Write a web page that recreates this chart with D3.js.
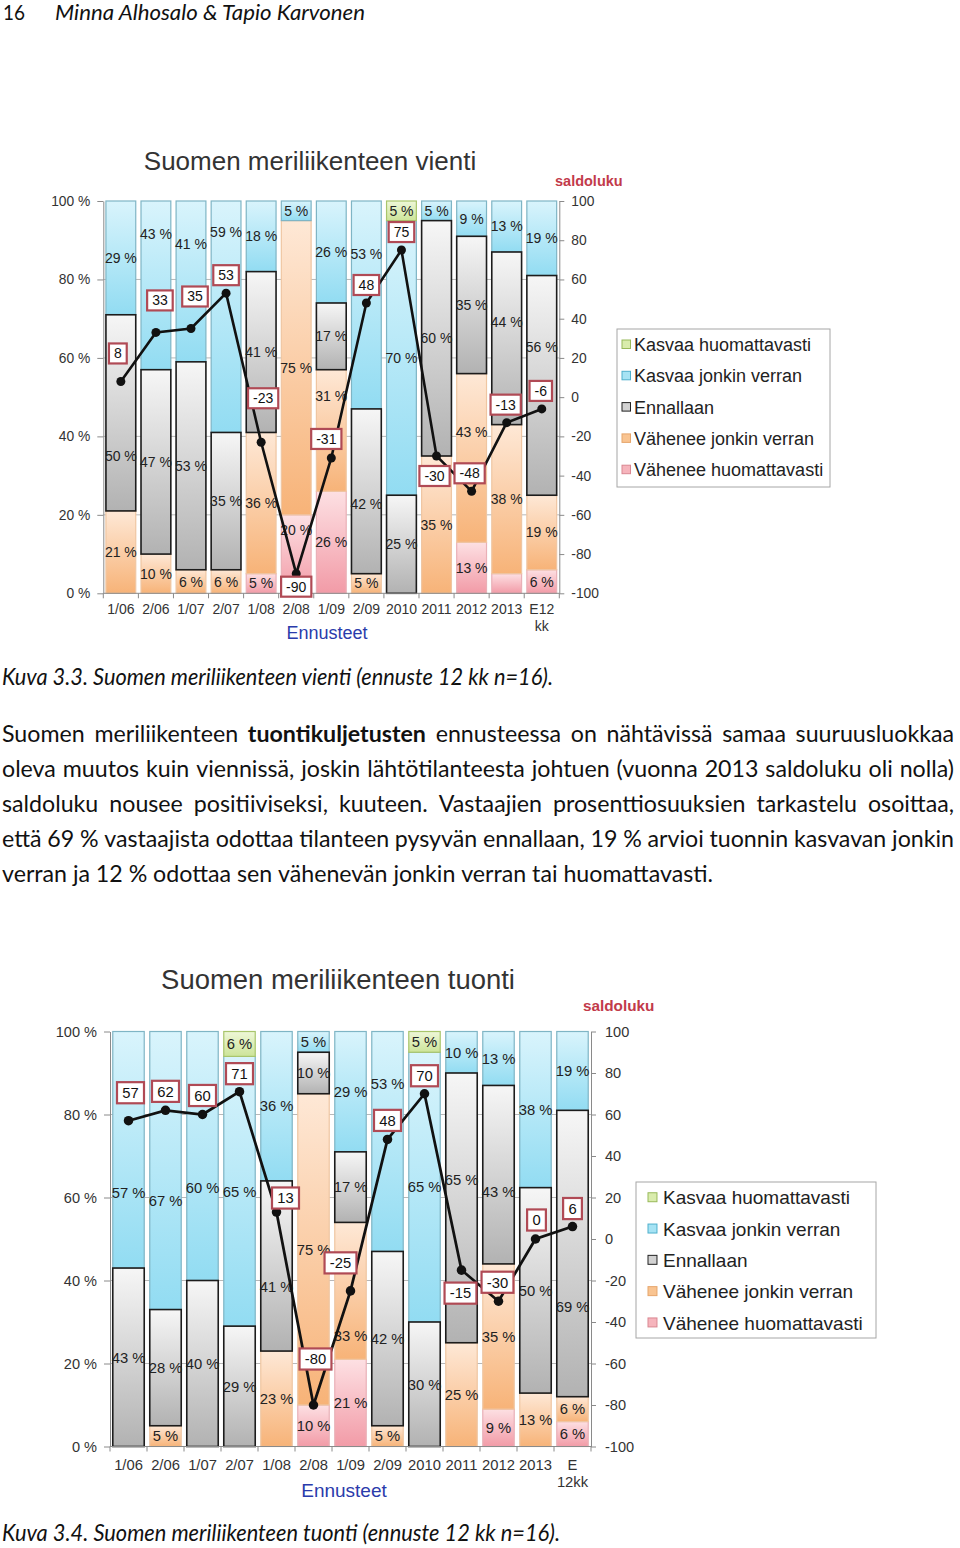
<!DOCTYPE html>
<html><head><meta charset="utf-8">
<script src="https://cdn.jsdelivr.net/npm/d3@7"></script>
<style>body{margin:0;background:#fff}svg{display:block}</style>
</head><body>
<svg id="page" width="960" height="1548"></svg>
<script>
// ---------------- DATA ----------------
const categories1 = ["1/06","2/06","1/07","2/07","1/08","2/08","1/09","2/09","2010","2011","2012","2013","E12 kk"];
const categories2 = ["1/06","2/06","1/07","2/07","1/08","2/08","1/09","2/09","2010","2011","2012","2013","E 12kk"];
const stackKeys = ["vh","vj","en","kj","kh"]; // bottom -> top
const seriesLabels = ["Vähenee huomattavasti","Vähenee jonkin verran","Ennallaan","Kasvaa jonkin verran","Kasvaa huomattavasti"];
const legendOrder = ["kh","kj","en","vj","vh"];

// Kuva 3.3 vienti
const vientiVaheneeHuom  = [0, 0, 0, 0, 5, 20, 26, 0, 0, 0, 13, 5, 6];
const vientiVaheneeJonk  = [21,10, 6, 6, 36, 75, 31, 5, 0, 35, 43, 38, 19];
const vientiEnnallaan    = [50,47,53,35, 41, 0, 17, 42, 25, 60, 35, 44, 56];
const vientiKasvaaJonk   = [29,43,41,59, 18, 5, 26, 53, 70, 5, 9, 13, 19];
const vientiKasvaaHuom   = [0, 0, 0, 0, 0, 0, 0, 0, 5, 0, 0, 0, 0];
const vientiSaldo        = [8, 33, 35, 53, -23, -90, -31, 48, 75, -30, -48, -13, -6];

// Kuva 3.4 tuonti
const tuontiVaheneeHuom  = [0, 0, 0, 0, 0, 10, 21, 0, 0, 0, 9, 0, 6];
const tuontiVaheneeJonk  = [0, 5, 0, 0, 23, 75, 33, 5, 0, 25, 35, 13, 6];
const tuontiEnnallaan    = [43,28,40,29, 41, 10, 17, 42, 30, 65, 43, 50, 69];
const tuontiKasvaaJonk   = [57,67,60,65, 36, 5, 29, 53, 65, 10, 13, 38, 19];
const tuontiKasvaaHuom   = [0, 0, 0, 6, 0, 0, 0, 0, 5, 0, 0, 0, 0];
const tuontiSaldo        = [57, 62, 60, 71, 13, -80, -25, 48, 70, -15, -30, 0, 6];

const pctTicks = [0, 0.2, 0.4, 0.6, 0.8, 1];
const saldoTicks = [-100,-80,-60,-40,-20,0,20,40,60,80,100];

const headerNumber = "16";
const headerAuthors = "Minna Alhosalo & Tapio Karvonen";
const caption1 = "Kuva 3.3. Suomen meriliikenteen vienti (ennuste 12 kk n=16).";
const caption2 = "Kuva 3.4. Suomen meriliikenteen tuonti (ennuste 12 kk n=16).";
const paragraphLines = [
  "Suomen meriliikenteen tuontikuljetusten ennusteessa on nähtävissä samaa suuruusluokkaa",
  "oleva muutos kuin viennissä, joskin lähtötilanteesta johtuen (vuonna 2013 saldoluku oli nolla)",
  "saldoluku nousee positiiviseksi, kuuteen. Vastaajien prosenttiosuuksien tarkastelu osoittaa,",
  "että 69 % vastaajista odottaa tilanteen pysyvän ennallaan, 19 % arvioi tuonnin kasvavan jonkin",
  "verran ja 12 % odottaa sen vähenevän jonkin verran tai huomattavasti."
];
const boldWords = ["tuontikuljetusten"];

// ---------------- STYLE ----------------
const svg = d3.select("#page");
svg.append("rect").attr("width",960).attr("height",1548).attr("fill","#fff");
const defs = svg.append("defs");
const gradStops = {kh:["#eef7d8","#cde499"], kj:["#d9f4fc","#92dcf2"], en:["#f6f6f6","#b2b2b2"], vj:["#fee8d6","#f7b378"], vh:["#fde0e3","#f29ba7"]};
const segStroke = {kh:"#a9c56c", kj:"#7fb5c5", en:"#1c1c1c", vj:"#efc6a2", vh:"#e9b0b7"};
const legFill = {kh:"#d9ecac", kj:"#a6e3f4", en:"#d2d2d2", vj:"#f9c491", vh:"#f6b4bc"};
const legStroke = {kh:"#98b95a", kj:"#4fb0cc", en:"#222", vj:"#e6a66c", vh:"#d98791"};
Object.entries(gradStops).forEach(([k,[a,b]]) => {
  const lg = defs.append("linearGradient").attr("id","g-"+k).attr("x1",0).attr("y1",0).attr("x2",0).attr("y2",1);
  lg.append("stop").attr("offset","0%").attr("stop-color",a);
  lg.append("stop").attr("offset","100%").attr("stop-color",b);
});
const chartFont = "'Liberation Sans', Arial, sans-serif";
const bodyFont = "Lato, 'Open Sans', sans-serif";

function drawChart(c) {
  const k = c.k;
  const g = svg.append("g").attr("font-family", chartFont);
  const rows = c.categories.map((cat,i) => ({cat, i, vh:c.vh[i], vj:c.vj[i], en:c.en[i], kj:c.kj[i], kh:c.kh[i], saldo:c.saldo[i]}));
  const x = d3.scaleBand().domain(c.categories).range([c.x0, c.x1]).paddingInner(0.15).paddingOuter(0.075);
  const yP = d3.scaleLinear().domain([0,1]).range([c.yBot, c.yTop]);
  const yS = d3.scaleLinear().domain([-100,100]).range([c.yBot, c.yTop]);

  // title
  g.append("text").attr("x", c.titleX).attr("y", c.titleY).attr("text-anchor","middle")
    .attr("font-size", 26*k).attr("fill","#333").text(c.title);

  // gridlines
  g.append("g").selectAll("line").data([0.2,0.4,0.6,0.8]).join("line")
    .attr("x1", c.x0).attr("x2", c.x1).attr("y1", d => yP(d)).attr("y2", d => yP(d))
    .attr("stroke","#b8b8b8").attr("stroke-width",1);

  const stacked = d3.stack().keys(stackKeys).offset(d3.stackOffsetExpand)(rows);
  const drawOrder = ["vh","vj","kj","kh","en"];
  const segs = [];
  stacked.forEach(L => L.forEach(d => { if (d[1] > d[0]) segs.push({key:L.key, y0:d[0], y1:d[1], cat:d.data.cat, i:d.data.i, v:d.data[L.key]}); }));
  segs.sort((a,b) => drawOrder.indexOf(a.key) - drawOrder.indexOf(b.key));
  g.append("g").selectAll("rect").data(segs).join("rect")
    .attr("x", d => x(d.cat)).attr("width", x.bandwidth())
    .attr("y", d => yP(d.y1)).attr("height", d => yP(d.y0) - yP(d.y1))
    .attr("fill", d => "url(#g-" + d.key + ")")
    .attr("stroke", d => segStroke[d.key]).attr("stroke-width", d => d.key === "en" ? 1.6 : 1.2);

  // segment labels
  g.append("g").selectAll("text").data(segs.filter(d => !c.hidden.includes(d.i + "-" + d.key))).join("text")
    .attr("x", d => x(d.cat) + x.bandwidth()/2)
    .attr("y", d => yP((d.y0 + d.y1)/2) + 5*k + (c.nudge[d.i + "-" + d.key] || 0))
    .attr("text-anchor","middle").attr("font-size", 14*k).attr("fill","#222")
    .text(d => d.v + " %");

  // left axis
  const la = g.append("g").attr("transform", `translate(${c.x0},0)`)
    .call(d3.axisLeft(yP).tickValues(pctTicks).tickFormat(d => Math.round(d*100) + " %").tickSizeInner(6).tickSizeOuter(0).tickPadding(7));
  // right axis
  const ra = g.append("g").attr("transform", `translate(${c.x1},0)`)
    .call(d3.axisRight(yS).tickValues(saldoTicks).tickFormat(d => String(d)).tickSizeInner(5).tickSizeOuter(0).tickPadding(c.rightPad));
  [la, ra].forEach(a => {
    a.select(".domain").attr("stroke","#8a8a8a");
    a.selectAll(".tick line").attr("stroke","#8a8a8a");
    a.selectAll("text").attr("font-size", 13.8*k).attr("fill","#333").attr("font-family", chartFont);
  });

  // x axis
  g.append("line").attr("x1", c.x0).attr("x2", c.x1).attr("y1", c.yBot).attr("y2", c.yBot).attr("stroke","#8a8a8a");
  const bounds = c.categories.map(d => x(d) - x.step()*x.paddingInner()/2 ).concat([c.x1]);
  bounds[0] = c.x0;
  g.append("g").selectAll("line").data(bounds).join("line")
    .attr("x1", d => d).attr("x2", d => d).attr("y1", c.yBot).attr("y2", c.yBot + 5).attr("stroke","#8a8a8a");
  const xl = g.append("g").selectAll("text").data(c.categories).join("text")
    .attr("x", d => x(d) + x.bandwidth()/2).attr("y", c.yBot + c.xLabDy)
    .attr("text-anchor","middle").attr("font-size", 14*k).attr("fill","#333");
  xl.each(function(d) {
    const parts = d.split(" ");
    const t = d3.select(this);
    parts.forEach((p,j) => t.append("tspan").attr("x", x(d) + x.bandwidth()/2).attr("dy", j === 0 ? 0 : 17*k).text(p));
  });

  // Ennusteet
  g.append("text").attr("x", c.ennX).attr("y", c.ennY).attr("text-anchor","middle")
    .attr("font-size", 18*k).attr("fill","#2a3bab").text("Ennusteet");
  // saldoluku
  g.append("text").attr("x", c.saldoX).attr("y", c.saldoY).attr("font-size", 14.5*k)
    .attr("font-weight","bold").attr("fill","#c23a4a").text("saldoluku");

  // saldo line
  const cx = d => x(d.cat) + x.bandwidth()/2;
  g.append("path").datum(rows).attr("fill","none").attr("stroke","#111").attr("stroke-width",2.6*k)
    .attr("d", d3.line().x(cx).y(d => yS(d.saldo)));
  g.append("g").selectAll("circle").data(rows).join("circle")
    .attr("cx", cx).attr("cy", d => yS(d.saldo)).attr("r", 4.5*k).attr("fill","#111");

  // saldo labels
  const lg = g.append("g").selectAll("g").data(rows).join("g")
    .attr("transform", d => `translate(${cx(d) + c.lab[d.i][0]},${yS(d.saldo) + c.lab[d.i][1]})`);
  lg.each(function(d) {
    const gg = d3.select(this);
    const t = gg.append("text").attr("text-anchor","middle").attr("y", 5*k).attr("font-size", 14*k).attr("fill","#111").text(d.saldo);
    const w = t.node().getComputedTextLength();
    gg.insert("rect","text").attr("x", -w/2 - 5*k).attr("y", -10*k).attr("width", w + 10*k).attr("height", 20*k)
      .attr("fill","#fff").attr("stroke","#b04a55").attr("stroke-width", 2.2);
  });

  // legend
  const leg = g.append("g").attr("transform", `translate(${c.legX},${c.legY})`);
  leg.append("rect").attr("width", c.legW).attr("height", c.legH).attr("fill","#fff").attr("stroke","#a6a6a6");
  legendOrder.forEach((key, j) => {
    const yy = 15.5 + j*31.3;
    leg.append("rect").attr("x", c.legMX).attr("y", yy - 4.5*k).attr("width", 8.5*k).attr("height", 8.5*k)
      .attr("fill", legFill[key]).attr("stroke", legStroke[key]).attr("stroke-width",1);
    leg.append("text").attr("x", c.legTX).attr("y", yy + 6.5*k).attr("font-size", 18*k).attr("fill","#222")
      .text(seriesLabels[stackKeys.indexOf(key)]);
  });
}

drawChart({
  k: 1, title: "Suomen meriliikenteen vienti", titleX: 310, titleY: 170,
  categories: categories1, vh: vientiVaheneeHuom, vj: vientiVaheneeJonk, en: vientiEnnallaan, kj: vientiKasvaaJonk, kh: vientiKasvaaHuom, saldo: vientiSaldo,
  x0: 103.3, x1: 559.3, yTop: 201, yBot: 593.3, rightPad: 7, xLabDy: 21,
  ennX: 327, ennY: 639, saldoX: 555, saldoY: 186,
  legX: 617, legY: 329, legW: 213, legH: 158, legMX: 5, legTX: 17,
  nudge: {"0-en":43, "1-kj":-51, "2-kj":-37, "3-kj":-85, "5-vh":-24, "6-vj":-34, "7-kj":-51, "7-en":13, "10-vj":-26, "11-en":-16, "12-en":-38},
  hidden: ["11-vh"],
  lab: [[-3,-28],[4,-32],[4,-32],[0,-18],[2,-44],[0,13],[-5,-19],[0,-18],[0,-18],[-2,20],[-2,-18],[-1,-18],[-1,-18]]
});
drawChart({
  k: 1.056, title: "Suomen meriliikenteen tuonti", titleX: 338, titleY: 989,
  categories: categories2, vh: tuontiVaheneeHuom, vj: tuontiVaheneeJonk, en: tuontiEnnallaan, kj: tuontiKasvaaJonk, kh: tuontiKasvaaHuom, saldo: tuontiSaldo,
  x0: 110, x1: 591, yTop: 1031.5, yBot: 1446.5, rightPad: 9, xLabDy: 23,
  ennX: 344, ennY: 1497, saldoX: 583, saldoY: 1011,
  legX: 636, legY: 1182, legW: 240, legH: 156, legMX: 12, legTX: 27,
  nudge: {"0-kj":43, "1-kj":30, "2-kj":32, "4-en":21, "6-vj":45, "7-kj":-58, "9-en":-28, "10-en":17, "12-en":53},
  hidden: [],
  lab: [[2,-28],[0,-19],[0,-19],[0,-18],[9,-14],[2,-46],[-10,-28],[0,-19],[0,-18],[-1,23],[-1,-19],[1,-19],[0,-18]]
});

// ---------------- PAGE TEXT ----------------
const pageG = svg.append("g").attr("font-family", bodyFont).attr("fill","#111");
function measure(txt, weight, style, size) {
  const t = pageG.append("text").attr("font-size", size).attr("font-weight", weight).attr("font-style", style).text(txt);
  const w = t.node().getComputedTextLength(); t.remove(); return w;
}
function fitText(txt, x, y, width, size, style) {
  pageG.append("text").attr("x", x).attr("y", y).attr("font-size", size).attr("font-style", style || "normal")
    .attr("textLength", width).attr("lengthAdjust","spacingAndGlyphs").text(txt);
}
fitText(headerNumber, 3, 20, 22, 21, "normal");
fitText(headerAuthors, 55, 20, 310, 21, "italic");
fitText(caption1, 2, 685, 551, 24, "italic");
fitText(caption2, 2, 1541, 558, 24, "italic");

// body: choose font size so the last (unjustified) line has its natural width
const lastNat25 = measure(paragraphLines[paragraphLines.length-1], 400, "normal", 25);
const bodySize = 25 * 711 / lastNat25;
const lineTargets = [952, 952, 952, 952, 711];
paragraphLines.forEach((line, li) => {
  const words = line.split(" ");
  const ws = words.map(w => measure(w, boldWords.includes(w) ? 700 : 400, "normal", bodySize));
  const total = d3.sum(ws);
  const gap = (lineTargets[li] - total) / (words.length - 1);
  let xx = 2;
  const yy = 742 + li*35;
  words.forEach((w, j) => {
    pageG.append("text").attr("x", xx).attr("y", yy).attr("font-size", bodySize)
      .attr("font-weight", boldWords.includes(w) ? 700 : 400).text(w);
    xx += ws[j] + gap;
  });
});
</script>
</body></html>
